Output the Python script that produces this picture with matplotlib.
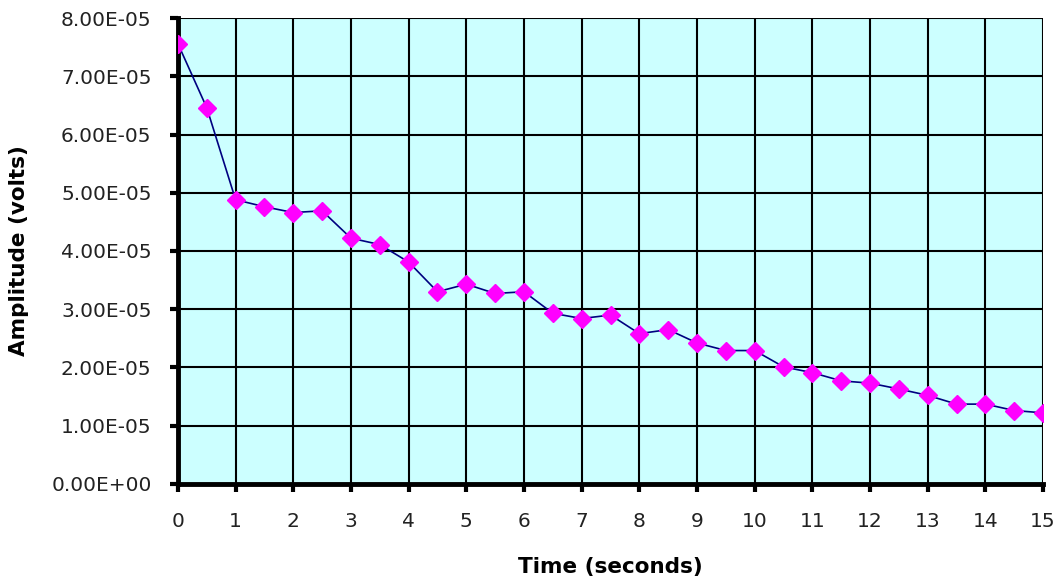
import matplotlib
matplotlib.use("Agg")
import matplotlib.pyplot as plt
from matplotlib.ticker import FuncFormatter

time_s = [0, 0.5, 1, 1.5, 2, 2.5, 3, 3.5, 4, 4.5, 5, 5.5, 6, 6.5, 7, 7.5,
          8, 8.5, 9, 9.5, 10, 10.5, 11, 11.5, 12, 12.5, 13, 13.5, 14, 14.5, 15]
amplitude = [7.56e-5, 6.46e-5, 4.88e-5, 4.76e-5, 4.66e-5, 4.69e-5, 4.22e-5,
             4.11e-5, 3.81e-5, 3.30e-5, 3.43e-5, 3.27e-5, 3.30e-5, 2.93e-5,
             2.84e-5, 2.90e-5, 2.58e-5, 2.65e-5, 2.42e-5, 2.29e-5, 2.29e-5,
             2.01e-5, 1.91e-5, 1.77e-5, 1.73e-5, 1.63e-5, 1.52e-5, 1.37e-5,
             1.37e-5, 1.26e-5, 1.22e-5]

plt.rcParams['font.family'] = ['DejaVu Sans']

fig = plt.figure(figsize=(10.59, 5.83), dpi=100)
ax = fig.add_axes([0.168, 0.170, 0.817, 0.799])
ax.set_facecolor('#ccffff')

ax.plot(time_s, amplitude, color='#000080', linewidth=1.2, zorder=3,
        marker='D', markersize=9.5, markerfacecolor='#ff00ff',
        markeredgecolor='#ff00ff')

ax.set_xlim(0, 15)
ax.set_ylim(0, 8e-5)
ax.set_xticks(range(0, 16))
ax.set_yticks([i * 1e-5 for i in range(9)])
ax.yaxis.set_major_formatter(FuncFormatter(lambda v, p: '%.2E' % v))
ax.grid(True, color='black', linewidth=1.5)
ax.set_axisbelow(True)

# only left/bottom axis lines, thick like the original
for s in ['top', 'right']:
    ax.spines[s].set_visible(False)
for s in ['left', 'bottom']:
    ax.spines[s].set_linewidth(3.5)
ax.tick_params(direction='out', length=6, width=3, labelsize=14.5, colors='black',
               labelcolor='#222222')
ax.tick_params(axis='x', pad=14)
ax.tick_params(axis='y', pad=13)

ax.set_xlabel('Time (seconds)', fontsize=15.5, fontweight='bold', labelpad=19)
ax.set_ylabel('Amplitude (volts)', fontsize=15.5, fontweight='bold', labelpad=16)

fig.savefig('out.png', dpi=100)
